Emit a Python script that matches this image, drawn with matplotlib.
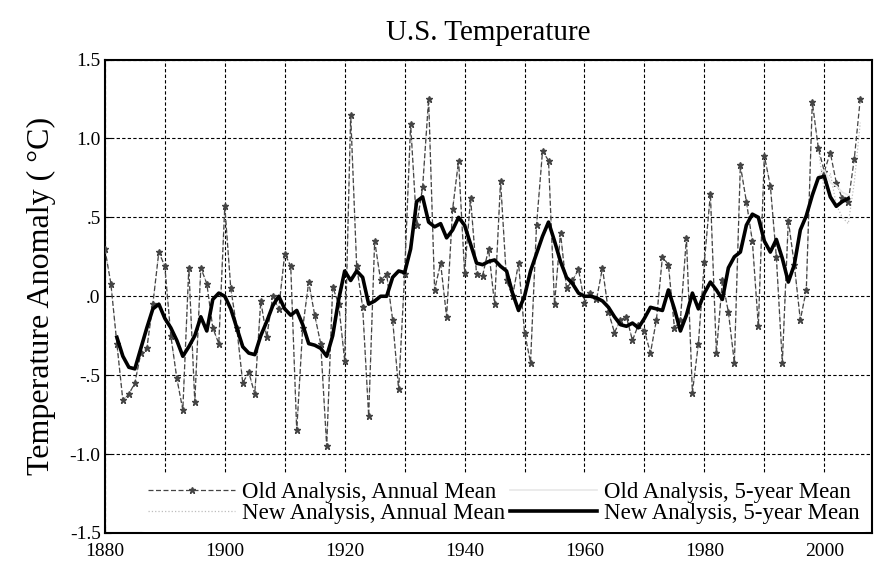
import matplotlib
matplotlib.use("Agg")
import matplotlib.pyplot as plt
import numpy as np

plt.rcParams["font.family"] = ["Liberation Serif", "DejaVu Serif"]

# years of the annual series
years = list(range(1880, 2007))

# old analysis, annual mean (deg C)
old_annual = [
    0.30, 0.08, -0.30, -0.66, -0.62, -0.55, -0.36, -0.33, -0.05, 0.28,   # 1880s
    0.19, -0.25, -0.52, -0.72, 0.18, -0.67, 0.18, 0.08, -0.20, -0.30,    # 1890s
    0.57, 0.05, -0.20, -0.55, -0.48, -0.62, -0.03, -0.26, 0.00, -0.08,   # 1900s
    0.27, 0.19, -0.85, -0.20, 0.09, -0.12, -0.30, -0.95, 0.06, -0.05,    # 1910s
    -0.41, 1.15, 0.19, -0.07, -0.76, 0.35, 0.10, 0.14, -0.15, -0.59,     # 1920s
    0.14, 1.09, 0.45, 0.69, 1.25, 0.04, 0.21, -0.13, 0.55, 0.86,         # 1930s
    0.15, 0.62, 0.14, 0.13, 0.30, -0.05, 0.73, 0.10, 0.00, 0.21,         # 1940s
    -0.23, -0.42, 0.45, 0.92, 0.86, -0.05, 0.40, 0.05, 0.10, 0.17,       # 1950s
    -0.04, 0.02, -0.02, 0.18, -0.10, -0.23, -0.15, -0.13, -0.28, -0.18,  # 1960s
    -0.22, -0.36, -0.15, 0.25, 0.20, -0.20, -0.15, 0.37, -0.61, -0.30,   # 1970s
    0.22, 0.65, -0.36, 0.10, -0.10, -0.42, 0.83, 0.60, 0.35, -0.19,      # 1980s
    0.89, 0.70, 0.25, -0.42, 0.48, 0.20, -0.15, 0.04, 1.23, 0.94,        # 1990s
    0.79, 0.91, 0.72, 0.62, 0.60, 0.87, 1.25,                            # 2000-2006
]

# new analysis only differs from 2000 on
new_annual = old_annual[:120] + [0.66, 0.78, 0.58, 0.50, 0.46, 0.72, 1.10]

# 5-year means, 1882-2004
years5 = list(range(1882, 2005))
new_5yr = [
    -0.26, -0.38, -0.45, -0.46, -0.33, -0.20, -0.08, -0.05,              # 1882-1889
    -0.14, -0.20, -0.28, -0.38, -0.32, -0.25, -0.13, -0.22, -0.02, 0.02,  # 1890s
    0.00, -0.08, -0.20, -0.32, -0.36, -0.37, -0.25, -0.16, -0.06, 0.00,   # 1900s
    -0.08, -0.12, -0.09, -0.18, -0.30, -0.31, -0.33, -0.38, -0.25, -0.02, # 1910s
    0.16, 0.10, 0.16, 0.12, -0.05, -0.03, 0.00, 0.00, 0.12, 0.16,         # 1920s
    0.15, 0.30, 0.60, 0.63, 0.47, 0.44, 0.46, 0.37, 0.42, 0.50,           # 1930s
    0.45, 0.33, 0.21, 0.20, 0.22, 0.23, 0.19, 0.16, 0.02, -0.09,          # 1940s
    0.00, 0.16, 0.27, 0.38, 0.47, 0.35, 0.22, 0.12, 0.08, 0.02,           # 1950s
    0.00, 0.00, -0.01, -0.03, -0.07, -0.13, -0.18, -0.19, -0.17, -0.20,   # 1960s
    -0.14, -0.07, -0.08, -0.09, 0.04, -0.08, -0.22, -0.12, 0.02, -0.08,   # 1970s
    0.02, 0.09, 0.04, -0.02, 0.18, 0.25, 0.28, 0.45, 0.52, 0.50,          # 1980s
    0.35, 0.28, 0.36, 0.24, 0.09, 0.20, 0.42, 0.51, 0.64, 0.75,           # 1990s
    0.76, 0.63, 0.57, 0.60, 0.62,                                         # 2000-2004
]
old_5yr = new_5yr[:116] + [0.66, 0.76, 0.80, 0.72, 0.70, 0.66, 0.64]

ytick_vals = [-1.5, -1.0, -0.5, 0.0, 0.5, 1.0, 1.5]
ytick_labels = ["-1.5", "-1.0", "-.5", ".0", ".5", "1.0", "1.5"]
xtick_vals = [1880, 1900, 1920, 1940, 1960, 1980, 2000]

fig = plt.figure(figsize=(8.74, 5.67), dpi=100)
ax = fig.add_axes([0.120, 0.060, 0.878, 0.835])

ax.plot(years, old_annual, color="#444444", lw=0.9, ls=(0, (4, 2)),
        marker="*", ms=4.5, label="Old Analysis, Annual Mean", zorder=3)
ax.plot(years, new_annual, color="#bdbdbd", lw=0.9, ls=":",
        label="New Analysis, Annual Mean", zorder=2)
ax.plot(years5, old_5yr, color="#e8e8e8", lw=1.2,
        label="Old Analysis, 5-year Mean", zorder=3)
ax.plot(years5, new_5yr, color="black", lw=2.6,
        label="New Analysis, 5-year Mean", zorder=4)

ax.set_xlim(1880, 2008)
ax.set_ylim(-1.5, 1.5)
ax.set_xticks(xtick_vals)
ax.set_xticks(np.arange(1890, 2008, 10), minor=True)
ax.set_yticks(ytick_vals)
ax.set_yticklabels(ytick_labels)
ax.tick_params(direction="in", labelsize=14, pad=3, length=4)
ax.tick_params(axis="x", pad=7)
ax.tick_params(which="minor", direction="in", length=4)

ax.grid(True, which="both", color="black", lw=0.8, ls=(0, (3, 2)))
for s in ax.spines.values():
    s.set_linewidth(1.5)

ax.set_title("U.S. Temperature", fontsize=21, pad=14)
ax.set_ylabel("Temperature Anomaly ( °C)", fontsize=23, labelpad=10)

leg = ax.legend(loc="lower center", bbox_to_anchor=(0.52, 0.0), ncol=2,
                fontsize=16.5, frameon=True, handlelength=3.8,
                columnspacing=0.2, handletextpad=0.3, labelspacing=0.0,
                borderpad=0.35, borderaxespad=0.05)
leg.get_frame().set_edgecolor("none")
leg.get_frame().set_facecolor("white")
leg.get_frame().set_alpha(1)
leg.set_zorder(5)

plt.savefig("out.png", dpi=100)
